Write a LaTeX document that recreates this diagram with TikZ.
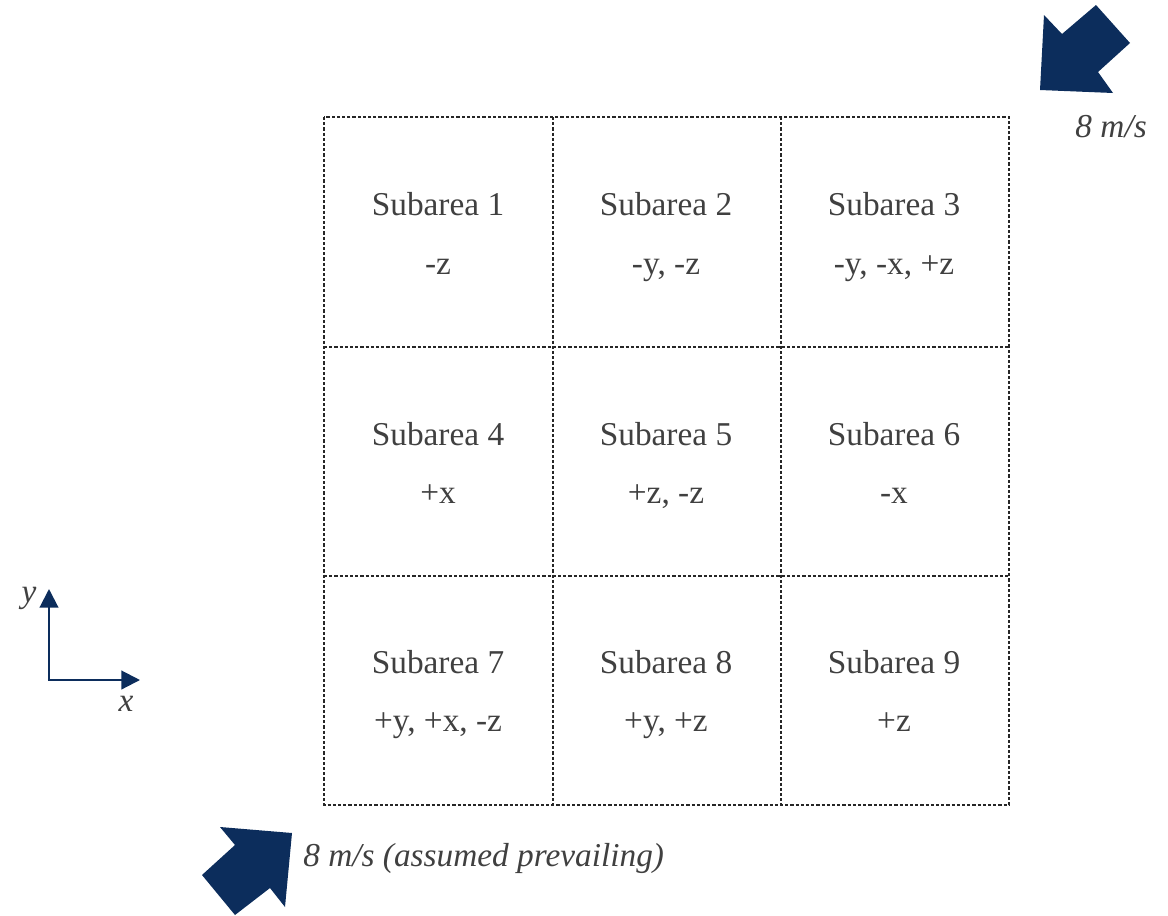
\documentclass[tikz,border=0pt]{standalone}
\usepackage{fontspec}
\setmainfont{Liberation Serif}
\usetikzlibrary{arrows.meta}
\definecolor{navy}{RGB}{12,45,92}
\definecolor{txt}{RGB}{64,64,64}
\tikzset{
  grid line/.style={draw=black!85, line width=0.8pt, dash pattern=on 2.4pt off 1.5pt},
  cell text/.style={text=txt, font=\fontsize{25}{30}\selectfont, inner sep=0pt, anchor=base},
  speed/.style={text=txt, font=\fontsize{25}{30}\selectfont\itshape, inner sep=0pt},
  block arrow/.style={fill=navy, draw=none},
  axis/.style={draw=navy, line width=1.6pt, -{Triangle[length=14pt,width=14pt]}}
}
\begin{document}
\begin{tikzpicture}[x=0.75pt,y=-0.75pt]
\useasboundingbox (0,0) rectangle (1168,915);

% dashed 3x3 grid
\draw[grid line] (324,117) rectangle (1009,805);
\draw[grid line] (553,117) -- (553,805);
\draw[grid line] (781,117) -- (781,805);
\draw[grid line] (324,347) -- (1009,347);
\draw[grid line] (324,576) -- (1009,576);

% subarea labels and wind sides
\node[cell text] (s1) at (438,215) {Subarea 1};
\node[cell text] (d1) at (438,274) {-z};
\node[cell text] (s2) at (666,215) {Subarea 2};
\node[cell text] (d2) at (666,274) {-y, -z};
\node[cell text] (s3) at (894,215) {Subarea 3};
\node[cell text] (d3) at (894,274) {-y, -x, +z};

\node[cell text] (s4) at (438,445) {Subarea 4};
\node[cell text] (d4) at (438,503) {+x};
\node[cell text] (s5) at (666,445) {Subarea 5};
\node[cell text] (d5) at (666,503) {+z, -z};
\node[cell text] (s6) at (894,445) {Subarea 6};
\node[cell text] (d6) at (894,503) {-x};

\node[cell text] (s7) at (438,673) {Subarea 7};
\node[cell text] (d7) at (438,731) {+y, +x, -z};
\node[cell text] (s8) at (666,673) {Subarea 8};
\node[cell text] (d8) at (666,731) {+y, +z};
\node[cell text] (s9) at (894,673) {Subarea 9};
\node[cell text] (d9) at (894,731) {+z};

% wind from the north-east
\fill[block arrow] (1040,90) -- (1044,15) -- (1062,34) -- (1096,5) -- (1130,43)
  -- (1098,72) -- (1113,93) -- cycle;
\node[speed, anchor=east] (ne) at (1147,127) {8 m/s};

% prevailing wind from the south-west
\fill[block arrow] (292,833) -- (220,827) -- (235,845) -- (202,875) -- (235,915)
  -- (270,888) -- (285,907) -- cycle;
\node[speed, anchor=west] (sw) at (303,858) {8 m/s (assumed prevailing)};

% axes
\coordinate (o) at (49,680);
\coordinate (ytip) at (49,589);
\coordinate (xtip) at (140,680);
\draw[axis] (o) -- (ytip);
\draw[axis] ([xshift=-0.8pt]o) -- (xtip);
\node[speed] (ylab) at (29,598) {y};
\node[speed] (xlab) at (126,704) {x};
\end{tikzpicture}
\end{document}
